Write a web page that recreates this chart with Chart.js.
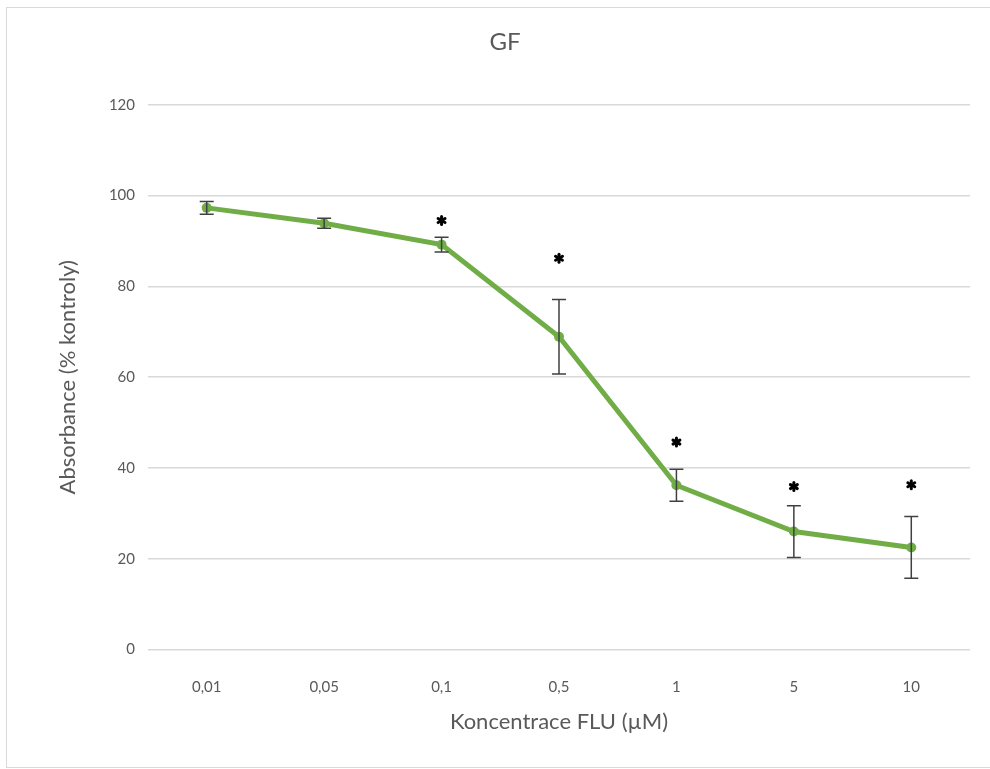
<!DOCTYPE html>
<html>
<head>
<meta charset="utf-8">
<script src="https://cdn.jsdelivr.net/npm/chart.js@4.4.0/dist/chart.umd.min.js"></script>
<style>
  html, body { margin: 0; padding: 0; background: #fff; }
  .frame { position: absolute; left: 6px; top: 7px; width: 990px; height: 761px; border: 1px solid #d9d9d9; box-sizing: border-box; }
  canvas { position: absolute; left: 0; top: 0; }
</style>
</head>
<body>
<div class="frame"></div>
<canvas id="lineChart" width="990" height="769"></canvas>
<script>
const concentrations = ['0,01', '0,05', '0,1', '0,5', '1', '5', '10'];
const absorbance = [97.3, 93.9, 89.2, 68.9, 36.2, 26.0, 22.5];
const errors = [1.4, 1.1, 1.6, 8.2, 3.5, 5.7, 6.8];
// y position of the significance mark, null where there is none
const significance = [null, null, 94.5, 86.2, 45.7, 35.9, 36.3];

const textColor = '#595959';
const fontFamily = 'Lato, "Open Sans", sans-serif';

// vertical error bars with caps
const errorBars = {
    id: 'errorBars',
    afterDatasetsDraw(chart) {
        const ctx = chart.ctx;
        const x = chart.scales.x;
        const y = chart.scales.y;
        ctx.save();
        ctx.strokeStyle = '#404040';
        ctx.lineWidth = 1.5;
        absorbance.forEach(function (v, i) {
            const px = x.getPixelForValue(i);
            const top = y.getPixelForValue(v + errors[i]);
            const bottom = y.getPixelForValue(v - errors[i]);
            ctx.beginPath();
            ctx.moveTo(px, top);
            ctx.lineTo(px, bottom);
            ctx.moveTo(px - 7, top);
            ctx.lineTo(px + 7, top);
            ctx.moveTo(px - 7, bottom);
            ctx.lineTo(px + 7, bottom);
            ctx.stroke();
        });
        ctx.restore();
    }
};

// asterisks over significant points
const asterisks = {
    id: 'asterisks',
    afterDatasetsDraw(chart) {
        const ctx = chart.ctx;
        const x = chart.scales.x;
        const y = chart.scales.y;
        ctx.save();
        ctx.strokeStyle = '#000';
        ctx.lineWidth = 3;
        ctx.lineCap = 'round';
        significance.forEach(function (v, i) {
            if (v === null) return;
            const px = x.getPixelForValue(i);
            const py = y.getPixelForValue(v);
            for (let k = 0; k < 3; k++) {
                const a = Math.PI / 2 + k * Math.PI / 3;
                const dx = Math.cos(a) * 4, dy = Math.sin(a) * 4;
                ctx.beginPath();
                ctx.moveTo(px - dx, py - dy);
                ctx.lineTo(px + dx, py + dy);
                ctx.stroke();
            }
        });
        ctx.restore();
    }
};

document.addEventListener('DOMContentLoaded', function () {
    const el = document.getElementById('lineChart');
    new Chart(el, {
        type: 'line',
        data: {
            labels: concentrations,
            datasets: [
                {
                    label: 'GF',
                    data: absorbance,
                    borderColor: '#70AD47',
                    backgroundColor: '#70AD47',
                    borderWidth: 5,
                    pointRadius: 5,
                    pointBorderWidth: 0,
                    tension: 0
                }
            ]
        },
        options: {
            responsive: false,
            animation: false,
            layout: {
                padding: { left: 40, right: 20, top: 7, bottom: 7 }
            },
            plugins: {
                legend: { display: false },
                tooltip: { enabled: false },
                title: {
                    display: true,
                    text: 'GF',
                    color: textColor,
                    font: { family: fontFamily, size: 24, weight: 'normal' },
                    padding: { top: 21, bottom: 48 }
                }
            },
            scales: {
                x: {
                    offset: true,
                    grid: { display: false, drawTicks: false },
                    border: { display: false },
                    ticks: {
                        color: textColor,
                        padding: 29,
                        font: { family: fontFamily, size: 15 }
                    },
                    title: {
                        display: true,
                        text: 'Koncentrace FLU (µM)',
                        color: textColor,
                        font: { family: fontFamily, size: 22 },
                        padding: { top: -17, bottom: 27 }
                    }
                },
                y: {
                    min: 0,
                    max: 120,
                    ticks: {
                        stepSize: 20,
                        color: textColor,
                        padding: 13,
                        font: { family: fontFamily, size: 15 }
                    },
                    grid: { color: '#D9D9D9', lineWidth: 1.5, drawTicks: false },
                    border: { display: false },
                    title: {
                        display: true,
                        text: 'Absorbance (% kontroly)',
                        color: textColor,
                        font: { family: fontFamily, size: 22 },
                        padding: { top: 15, bottom: 0 }
                    },
                    afterFit: function (scale) { scale.width = 108; }
                }
            }
        },
        plugins: [errorBars, asterisks]
    });
});
</script>
</body>
</html>
